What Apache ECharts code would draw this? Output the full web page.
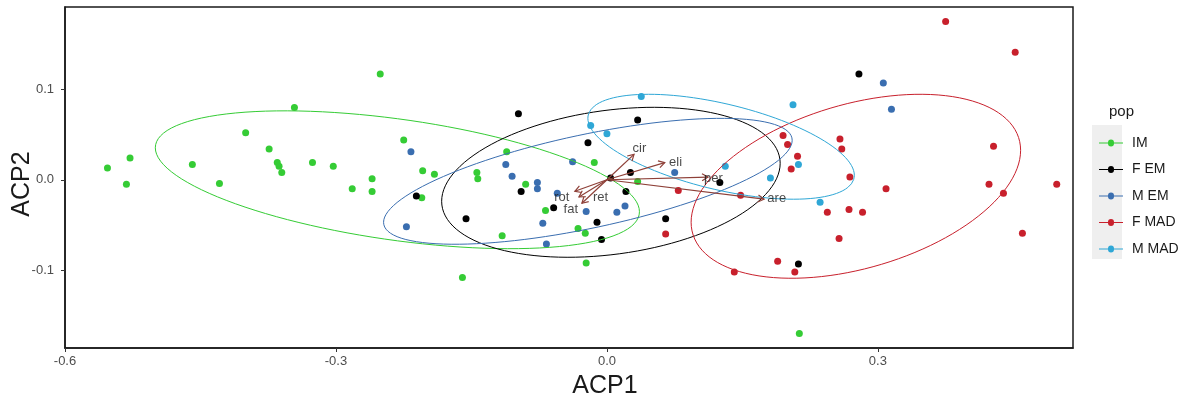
<!DOCTYPE html>
<html>
<head>
<meta charset="utf-8">
<title>ACP</title>
<script src="https://cdn.jsdelivr.net/npm/echarts@6/dist/echarts.min.js"></script>
<style>
    html, body { margin: 0; padding: 0; background: #fff; }
    #chart { width: 1178px; height: 399px; }
</style>
</head>
<body>
<div id="chart"></div>
<script>
// ---------------- data ----------------
const groups = ['IM', 'F EM', 'M EM', 'F MAD', 'M MAD'];
const groupColors = ['#35cc35', '#000000', '#3a6eb0', '#c8202c', '#2fa7d6'];

const imX = [-0.553, -0.528, -0.532, -0.459, -0.429, -0.400, -0.374, -0.365, -0.363, -0.360, -0.346, -0.326,
    -0.303, -0.282, -0.260, -0.260, -0.251, -0.225, -0.204, -0.191, -0.205, -0.144, -0.143, -0.111,
    -0.090, -0.068, -0.116, -0.160, -0.014, 0.034, -0.032, -0.024, -0.023, 0.213];
const imY = [0.013, 0.024, -0.005, 0.017, -0.004, 0.052, 0.034, 0.019, 0.015, 0.008, 0.080, 0.019,
    0.015, -0.010, 0.001, -0.013, 0.117, 0.044, 0.010, 0.006, -0.020, 0.008, 0.001, 0.031,
    -0.005, -0.034, -0.062, -0.108, 0.019, -0.002, -0.054, -0.059, -0.092, -0.170];

const femX = [-0.098, 0.034, -0.021, 0.004, 0.026, 0.021, -0.095, -0.211, -0.059, -0.156, -0.011, 0.065,
    -0.006, 0.125, 0.279, 0.212];
const femY = [0.073, 0.066, 0.041, 0.002, 0.008, -0.013, -0.013, -0.018, -0.031, -0.043, -0.047, -0.043,
    -0.066, -0.003, 0.117, -0.093];

const memX = [-0.217, -0.112, -0.105, -0.077, -0.077, -0.038, -0.055, -0.023, 0.011, 0.020, -0.071, -0.067,
    -0.222, 0.075, 0.306, 0.315];
const memY = [0.031, 0.017, 0.004, -0.003, -0.010, 0.020, -0.015, -0.035, -0.036, -0.029, -0.048, -0.071,
    -0.052, 0.008, 0.107, 0.078];

const fmadX = [0.375, 0.452, 0.195, 0.200, 0.258, 0.260, 0.211, 0.204, 0.269, 0.428, 0.423, 0.498, 0.439,
    0.309, 0.079, 0.148, 0.244, 0.268, 0.283, 0.257, 0.460, 0.065, 0.141, 0.189, 0.208];
const fmadY = [0.175, 0.141, 0.049, 0.039, 0.045, 0.034, 0.026, 0.012, 0.003, 0.037, -0.005, -0.005, -0.015,
    -0.010, -0.012, -0.017, -0.036, -0.033, -0.036, -0.065, -0.059, -0.060, -0.102, -0.090, -0.102];

const mmadX = [0.038, -0.018, 0.000, 0.131, 0.181, 0.206, 0.212, 0.236];
const mmadY = [0.092, 0.060, 0.051, 0.015, 0.002, 0.083, 0.017, -0.025];

const pointsX = [imX, femX, memX, fmadX, mmadX];
const pointsY = [imY, femY, memY, fmadY, mmadY];

// confidence ellipses: centre, half extents, correlation
const ellCx = [-0.232, 0.0044, -0.0211, 0.2756, 0.1264];
const ellCy = [0.000, -0.0028, -0.0017, -0.0072, 0.0365];
const ellSx = [0.268, 0.1874, 0.2262, 0.1824, 0.1475];
const ellSy = [0.0762, 0.0829, 0.0696, 0.1017, 0.058];
const ellR = [-0.464, 0.253, 0.651, 0.391, -0.543];

// loadings (arrows) and their labels
const varNames = ['cir', 'eli', 'per', 'are', 'rot', 'ret', 'fat'];
const varX = [0.030, 0.064, 0.112, 0.174, -0.0355, -0.0277, -0.031];
const varY = [0.028, 0.019, 0.003, -0.0215, -0.0127, -0.026, -0.019];
const labX = [0.036, 0.076, 0.118, 0.188, -0.050, -0.007, -0.040];
const labY = [0.035, 0.019, 0.002, -0.021, -0.020, -0.020, -0.033];

const xTicks = [-0.6, -0.3, 0.0, 0.3];
const yTicks = [-0.1, 0.0, 0.1];

// ---------------- build series ----------------
function ellipsePath(i) {
    const pts = [];
    const k = Math.sqrt(1 - ellR[i] * ellR[i]);
    for (let j = 0; j <= 120; j++) {
        const t = j / 120 * Math.PI * 2;
        pts.push([
            ellCx[i] + ellSx[i] * Math.cos(t),
            ellCy[i] + ellSy[i] * (ellR[i] * Math.cos(t) + k * Math.sin(t))
        ]);
    }
    return pts;
}

const series = [];
groups.forEach((g, i) => {
    series.push({
        name: g,
        type: 'scatter',
        symbolSize: 7,
        itemStyle: { color: groupColors[i], opacity: 1 },
        data: pointsX[i].map((x, j) => [x, pointsY[i][j]]),
        z: 2
    });
});
groups.forEach((g, i) => {
    series.push({
        name: g,
        type: 'line',
        showSymbol: false,
        symbol: 'none',
        silent: true,
        lineStyle: { color: groupColors[i], width: 1 },
        data: ellipsePath(i),
        z: 3
    });
});

// arrows with open heads
series.push({
    type: 'custom',
    silent: true,
    z: 4,
    data: varX.map((x, i) => [x, varY[i]]),
    renderItem: function(params, api) {
        const o = api.coord([0, 0]);
        const p = api.coord([api.value(0), api.value(1)]);
        const ang = Math.atan2(p[1] - o[1], p[0] - o[0]);
        const len = 7, spread = Math.PI / 6;
        const a1 = [p[0] - len * Math.cos(ang - spread), p[1] - len * Math.sin(ang - spread)];
        const a2 = [p[0] - len * Math.cos(ang + spread), p[1] - len * Math.sin(ang + spread)];
        const style = { stroke: '#8e4038', lineWidth: 1.2, fill: null };
        return {
            type: 'group',
            children: [
                { type: 'line', shape: { x1: o[0], y1: o[1], x2: p[0], y2: p[1] }, style: style },
                { type: 'polyline', shape: { points: [a1, p, a2] }, style: style }
            ]
        };
    }
});

// variable names
series.push({
    type: 'scatter',
    silent: true,
    z: 5,
    symbolSize: 0,
    data: labX.map((x, i) => ({ value: [x, labY[i]], name: varNames[i] })),
    label: {
        show: true,
        position: 'inside',
        formatter: p => p.name,
        color: '#1a1a1a',
        fontSize: 13,
        fontFamily: 'Liberation Sans, Arial, sans-serif'
    }
});

// legend key: line with a dot
const keyIcon = 'path://M0,3.5H9A3,3 0 0 1 15,3.5H24V4.5H15A3,3 0 0 1 9,4.5H0Z';

const chart = echarts.init(document.getElementById('chart'));
chart.setOption({
    animation: false,
    backgroundColor: '#fff',
    textStyle: { fontFamily: 'Liberation Sans, Arial, sans-serif' },
    grid: {
        left: 65, right: 105, top: 7, bottom: 51,
        show: true, borderColor: '#1a1a1a', borderWidth: 1.5, backgroundColor: '#fff'
    },
    xAxis: {
        type: 'value',
        min: -0.6, max: 0.516,
        splitLine: { show: false },
        axisLine: { show: true, onZero: false, lineStyle: { color: '#1a1a1a', width: 1.5 } },
        axisTick: { show: true, length: 4, customValues: xTicks, lineStyle: { color: '#333' } },
        axisLabel: {
            customValues: xTicks, margin: 7, fontSize: 13, color: '#4d4d4d',
            formatter: v => v.toFixed(1)
        }
    },
    yAxis: {
        type: 'value',
        min: -0.186, max: 0.191,
        splitLine: { show: false },
        axisLine: { show: true, onZero: false, lineStyle: { color: '#1a1a1a', width: 1.5 } },
        axisTick: { show: true, length: 4, customValues: yTicks, lineStyle: { color: '#333' } },
        axisLabel: {
            customValues: yTicks, margin: 11, fontSize: 13, color: '#4d4d4d',
            formatter: v => v.toFixed(1)
        }
    },
    legend: {
        orient: 'vertical',
        left: 1094,
        top: 130,
        itemWidth: 24,
        itemHeight: 8,
        itemGap: 10.5,
        selectedMode: false,
        data: groups.map((g, i) => ({ name: g, icon: keyIcon, itemStyle: { color: groupColors[i] } })),
        textStyle: { fontSize: 14, color: '#1a1a1a', lineHeight: 16, padding: [0, 0, 0, 4] }
    },
    graphic: [
        { type: 'rect', left: 1092, top: 125, z: -1, shape: { width: 30, height: 134 }, style: { fill: '#efefef' } },
        { type: 'text', left: 1109, top: 104, style: { text: 'pop', fontSize: 15, fill: '#1a1a1a' } },
        { type: 'text', x: 605, y: 386, style: { text: 'ACP1', fontSize: 25, fill: '#1a1a1a', align: 'center', verticalAlign: 'middle' } },
        { type: 'text', x: 22, y: 184, rotation: Math.PI / 2, style: { text: 'ACP2', fontSize: 25, fill: '#1a1a1a', align: 'center', verticalAlign: 'middle' } }
    ],
    series: series
});
</script>
</body>
</html>
